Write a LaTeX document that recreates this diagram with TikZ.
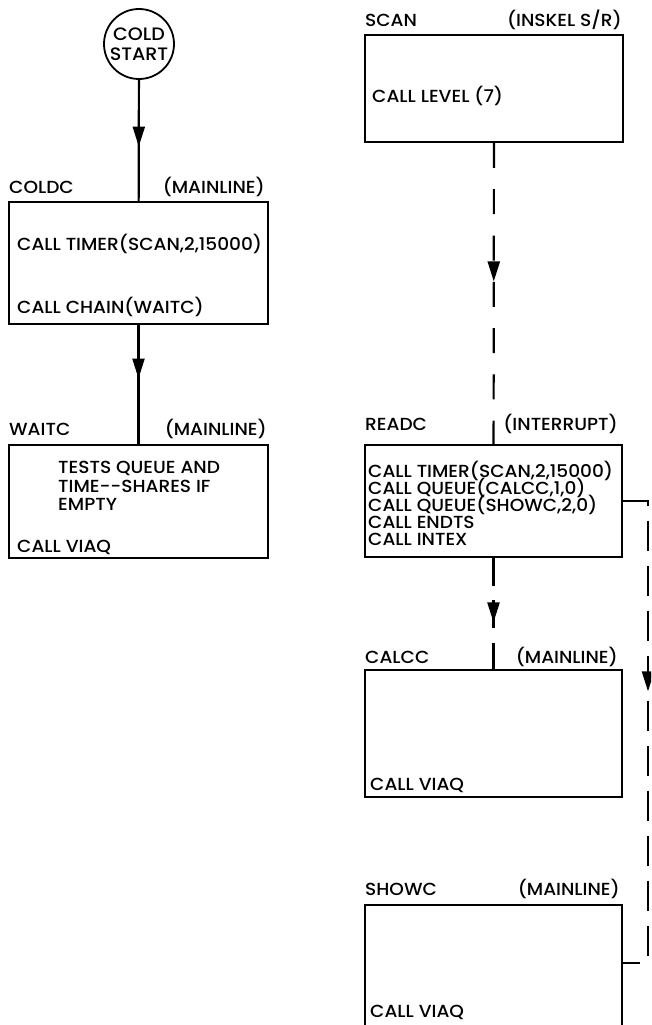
\documentclass[tikz,border=0pt]{standalone}
\usepackage{fontspec}
\setmainfont{Poppins}[UprightFont={* Medium}, FakeStretch=1.06]
\usetikzlibrary{arrows.meta,decorations.markings}
\newcommand{\tfont}{\fontsize{17.5}{19}\selectfont}
\newcommand{\cfont}{\fontsize{18}{19.5}\selectfont}
\begin{document}
\begin{tikzpicture}[x=1pt,y=-1pt,
  box/.style={draw, line width=1.8pt, rectangle, inner sep=0pt},
  txt/.style={inner sep=0pt, anchor=base west, font=\tfont},
  rtxt/.style={inner sep=0pt, anchor=base east, font=\tfont},
  conn/.style={line width=2.2pt},
  dashconn/.style={line width=2.2pt, dash pattern=on 25pt off 21.3pt},
  dashshort/.style={line width=2.2pt, dash pattern=on 28pt off 14.5pt},
  dashside/.style={line width=2.2pt, dash pattern=on 30pt off 15pt},
  arrowat/.style={postaction={decorate}, decoration={markings, mark=at position #1 with {\arrow{Triangle[length=20pt,width=12pt]}}}}
]
\clip (0,0) rectangle (651,1025);
\fill[white] (0,0) rectangle (651,1025);

% ---------- left column ----------
\node[draw, circle, line width=1.8pt, minimum size=70pt, inner sep=0pt, font=\cfont, align=center] (cold) at (139,44) {COLD\\START};

\node[box, minimum width=259pt, minimum height=122pt] (coldc) at (138.5,263) {};
\node[txt] (coldcname) at (9,193) {COLDC};
\node[rtxt] (coldctype) at (265,193) {(MAINLINE)};
\node[txt] (coldc1) at (17,250) {CALL TIMER(SCAN,2,15000)};
\node[txt] (coldc2) at (17,313) {CALL CHAIN(WAITC)};

\node[box, minimum width=259pt, minimum height=113pt] (waitc) at (138.5,501.5) {};
\node[txt] (waitcname) at (9,435) {WAITC};
\node[rtxt] (waitctype) at (267,435) {(MAINLINE)};
\node[txt] (waitc1) at (58,473) {TESTS QUEUE AND};
\node[txt] (waitc2) at (58,492) {TIME-{}-SHARES IF};
\node[txt] (waitc3) at (58,510) {EMPTY};
\node[txt] (waitc4) at (17,552) {CALL VIAQ};

\draw[conn, arrowat=0.55] (cold) -- (coldc);
\draw[conn, arrowat=0.45] (coldc) -- (waitc);

% ---------- right column ----------
\node[box, minimum width=258pt, minimum height=107pt] (scan) at (494,88.5) {};
\node[txt] (scanname) at (365,27) {SCAN};
\node[rtxt] (scantype) at (622,27) {(INSKEL S/R)};
\node[txt] (scan1) at (372,102) {CALL LEVEL (7)};

\node[box, minimum width=257pt, minimum height=112pt] (readc) at (493.5,501) {};
\node[txt] (readcname) at (365,430) {READC};
\node[rtxt] (readctype) at (618,430) {(INTERRUPT)};
\node[txt] (readc1) at (368,477) {CALL TIMER(SCAN,2,15000)};
\node[txt] (readc2) at (368,494) {CALL QUEUE(CALCC,1,0)};
\node[txt] (readc3) at (368,511) {CALL QUEUE(SHOWC,2,0)};
\node[txt] (readc4) at (368,528) {CALL ENDTS};
\node[txt] (readc5) at (368,545) {CALL INTEX};

\node[box, minimum width=257pt, minimum height=127pt] (calcc) at (493.5,733.5) {};
\node[txt] (calccname) at (365,663) {CALCC};
\node[rtxt] (calcctype) at (618,663) {(MAINLINE)};
\node[txt] (calcc1) at (370,790) {CALL VIAQ};

\node[box, minimum width=257pt, minimum height=150pt] (showc) at (493.5,980) {};
\node[txt] (showcname) at (365,895) {SHOWC};
\node[rtxt] (showctype) at (620,895) {(MAINLINE)};
\node[txt] (showc1) at (370,1017) {CALL VIAQ};

\coordinate (rc) at (648,501);
\coordinate (sin) at (622,963);

\draw[dashconn, arrowat=0.46] (scan) -- (readc);
\draw[dashshort, arrowat=0.58] (readc) -- (calcc);
\draw[dashside, arrowat=0.42] (readc.east) -- (rc) |- (sin);
\end{tikzpicture}
\end{document}
